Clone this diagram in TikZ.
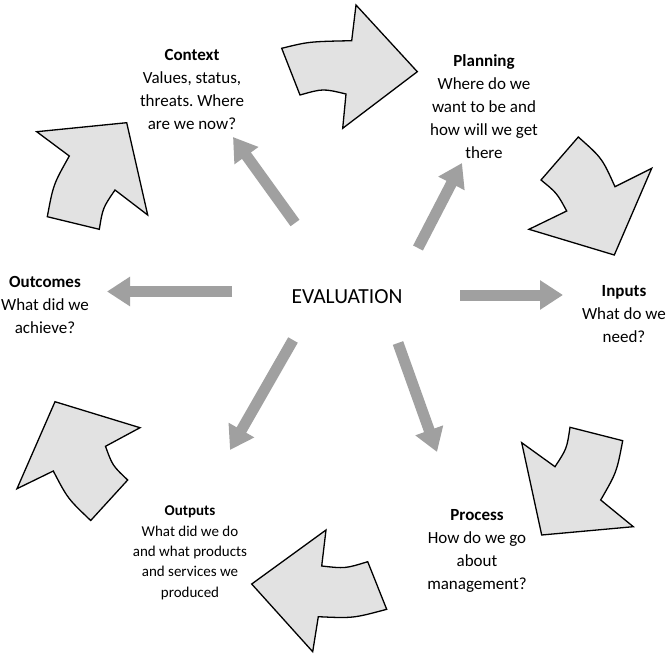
\documentclass[tikz,border=0pt]{standalone}
\usepackage{fontspec}
\setmainfont{Carlito}
\usetikzlibrary{arrows.meta}
\definecolor{bigfill}{RGB}{226,226,226}
\definecolor{thingray}{RGB}{160,160,160}
\tikzset{
  bigarrow/.style={draw=black, line width=1.3pt, fill=bigfill, line join=miter},
  thinarrow/.style={draw=thingray, line width=11pt, -{Triangle[width=28pt,length=23pt]}},
  lbl/.style={align=center, inner sep=0pt, font=\fontsize{17}{23}\selectfont},
  lblsmall/.style={align=center, inner sep=0pt, font=\fontsize{15}{20.3}\selectfont},
}
\frenchspacing
\begin{document}
\begin{tikzpicture}[x=1pt, y=-1pt]
\useasboundingbox (0,0) rectangle (667,656);
\fill[white] (0,0) rectangle (667,656);

% big curved arrows
% top (to Planning)
\draw[bigarrow] (281.7,48.3) .. controls (308.8,41.6) .. (351.7,40.7) -- (356,5) -- (417.3,71.7)
  -- (342.7,128.3) -- (346,94) .. controls (323,88.5) .. (300,95) -- cycle;
% right top (to Inputs)
\draw[bigarrow] (578.3,137) -- (541,180) .. controls (556.9,193) .. (566.7,211) -- (529,229.3)
  -- (614.3,255) -- (651.7,168.3) -- (615,186.7) .. controls (602,158) .. cycle;
% right bottom (to Process)
\draw[bigarrow] (521.7,442.7) -- (555,466.7) .. controls (566.8,448.7) .. (570,427.3) -- (622.7,440.7)
  .. controls (616.7,472.2) .. (600.7,500) -- (633.3,526.7) -- (541.7,535) -- cycle;
% bottom (to Outputs)
\draw[bigarrow] (326,530) -- (321.7,566) .. controls (345.2,568.6) .. (367.7,561.7) -- (386.7,609.3)
  .. controls (353.1,618.3) .. (318.3,616.7) -- (312.7,651.7) -- (251.7,584) -- cycle;
% left bottom (to Outcomes)
\draw[bigarrow] (55,401.7) -- (140,427.7) -- (105.5,446.3) .. controls (112.5,465.6) .. (127.7,480)
  -- (90.7,520.5) .. controls (67.7,498.6) .. (53.3,471) -- (17,488.7) -- cycle;
% left top (to Context)
\draw[bigarrow] (36.7,131.7) -- (126.7,122.7) -- (147.7,215) -- (115,190) .. controls (102.8,207.9) .. (99.3,229.3)
  -- (47.3,216.7) .. controls (53.3,184.5) .. (69.3,156) -- cycle;

% labels
\node[lbl] (ctx) at (192,89.5) {\textbf{Context}\\Values, status,\\threats. Where\\are we now?};
\node[lbl] (pla) at (484,106.4) {\textbf{Planning}\\Where do we\\want to be and\\how will we get\\there};
\node[lbl] (inp) at (624,314) {\textbf{Inputs}\\What do we\\need?};
\node[lbl] (pro) at (477,551) {\textbf{Process}\\How do we go\\about\\management?};
\node[lblsmall] (out) at (190,552.8) {\textbf{Outputs}\\What did we do\\and what products\\and services we\\produced};
\node[lbl] (ocm) at (45,305) {\textbf{Outcomes}\\What did we\\achieve?};
\node[inner sep=0pt, font=\fontsize{21.5}{24}\selectfont] (eval) at (347,297) {EVALUATION};

% thin gray arrows
\coordinate (sCtx) at (295,223); \coordinate (tCtx) at (233,137);
\coordinate (sPla) at (418,248); \coordinate (tPla) at (462,163);
\coordinate (sInp) at (460,295); \coordinate (tInp) at (563,295);
\coordinate (sPro) at (398,343); \coordinate (tPro) at (437,452);
\coordinate (sOut) at (293,340); \coordinate (tOut) at (230,450);
\coordinate (sOcm) at (232,291.5); \coordinate (tOcm) at (107,291.5);
\draw[thinarrow] (sCtx) -- (tCtx);
\draw[thinarrow] (sPla) -- (tPla);
\draw[thinarrow] (sInp) -- (tInp);
\draw[thinarrow] (sPro) -- (tPro);
\draw[thinarrow] (sOut) -- (tOut);
\draw[thinarrow] (sOcm) -- (tOcm);
\end{tikzpicture}
\end{document}
